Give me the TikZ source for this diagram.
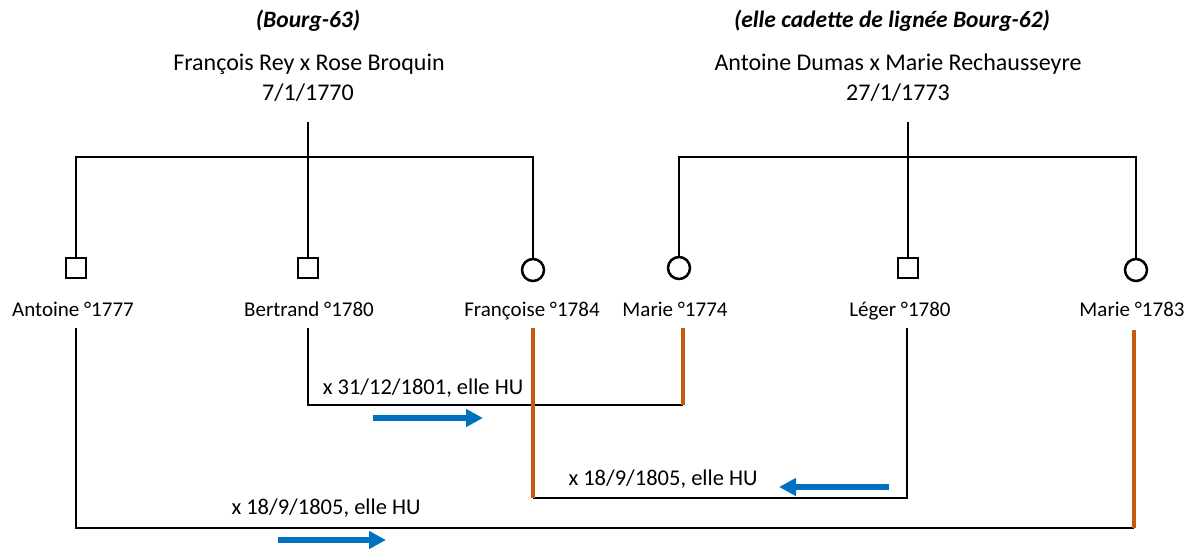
\documentclass[tikz,border=0pt]{standalone}
\usepackage{fontspec}
\setmainfont{Carlito}
\usetikzlibrary{arrows.meta}
\definecolor{rorange}{HTML}{C55A11}
\definecolor{rblue}{HTML}{0070C0}
\begin{document}
\begin{tikzpicture}[x=1pt,y=-1pt,
  txt/.style={font=\fontsize{21}{24}\selectfont, inner sep=0pt, anchor=base},
  cpl/.style={font=\fontsize{24}{28}\selectfont, inner sep=0pt, anchor=base},
  mar/.style={font=\fontsize{22.5}{26}\selectfont, inner sep=0pt, anchor=base},
  hdr/.style={font=\fontsize{23.5}{26}\selectfont\bfseries\itshape, inner sep=0pt, anchor=base},
  male/.style={draw, line width=2.5pt, minimum size=20pt, inner sep=0pt},
  female/.style={draw, circle, line width=2.5pt, minimum size=22pt, inner sep=0pt},
  kin/.style={line width=2.5pt, black},
  spouse/.style={line width=4.5pt, rorange},
  flow/.style={line width=6pt, rblue, -{Triangle[length=17pt,width=17pt]}}]
\useasboundingbox (0,0) rectangle (1194,549);
% headers
\node[hdr] (h1) at (308,27) {(Bourg-63)};
\node[cpl] (c1) at (309,70) {François Rey x Rose Broquin};
\node[cpl] (d1) at (308,100) {7/1/1770};
\node[hdr] (h2) at (892,27) {(elle cadette de lignée Bourg-62)};
\node[cpl] (c2) at (898,70) {Antoine Dumas x Marie Rechausseyre};
\node[cpl] (d2) at (898,100) {27/1/1773};
% symbols
\node[male] (antoine) at (76,268) {};
\node[male] (bertrand) at (308,268) {};
\node[female] (francoise) at (533,270) {};
\node[female] (marie74) at (679,268) {};
\node[male] (leger) at (908,268) {};
\node[female] (marie83) at (1136,270) {};
% names
\node[txt] (lantoine) at (73,316) {Antoine °1777};
\node[txt] (lbertrand) at (309,316) {Bertrand °1780};
\node[txt] (lfrancoise) at (532,316) {Françoise °1784};
\node[txt] (lmarie74) at (675,316) {Marie °1774};
\node[txt] (lleger) at (900,316) {Léger °1780};
\node[txt] (lmarie83) at (1132,316) {Marie °1783};
% family 1
\coordinate (t1) at (308,122);
\coordinate (b1) at (308,157);
\draw[kin] (t1) -- (bertrand.north);
\draw[kin] (antoine.north) |- (b1) -| (francoise.north);
% family 2
\coordinate (t2) at (908,122);
\coordinate (b2) at (908,157);
\draw[kin] (t2) -- (leger.north);
\draw[kin] (marie74.north) |- (b2) -| (marie83.north);
% marriage 1
\coordinate (m1a) at (308,328);
\coordinate (m1b) at (683,328);
\coordinate (m1c) at (683,405);
\draw[kin] (m1a) |- (m1c);
\draw[spouse] (m1b) -- (m1c);
% marriage 2
\coordinate (m2a) at (533,328);
\coordinate (m2b) at (533,498);
\coordinate (m2c) at (907,328);
\draw[kin] (m2b) -| (m2c);
\draw[spouse] (m2a) -- (m2b);
% marriage 3
\coordinate (m3a) at (76,328);
\coordinate (m3b) at (1134,330);
\coordinate (m3c) at (1134,528);
\draw[kin] (m3a) |- (m3c);
\draw[spouse] (m3b) -- (m3c);
% labels
\node[mar] (x1) at (423,394) {x 31/12/1801, elle HU};
\node[mar] (x2) at (663,485) {x 18/9/1805, elle HU};
\node[mar] (x3) at (326,514) {x 18/9/1805, elle HU};
% arrows
\coordinate (a1s) at (373,418); \coordinate (a1e) at (483,418);
\coordinate (a2s) at (889,487); \coordinate (a2e) at (779,487);
\coordinate (a3s) at (278,540); \coordinate (a3e) at (386,540);
\draw[flow] (a1s) -- (a1e);
\draw[flow] (a2s) -- (a2e);
\draw[flow] (a3s) -- (a3e);
\end{tikzpicture}
\end{document}
